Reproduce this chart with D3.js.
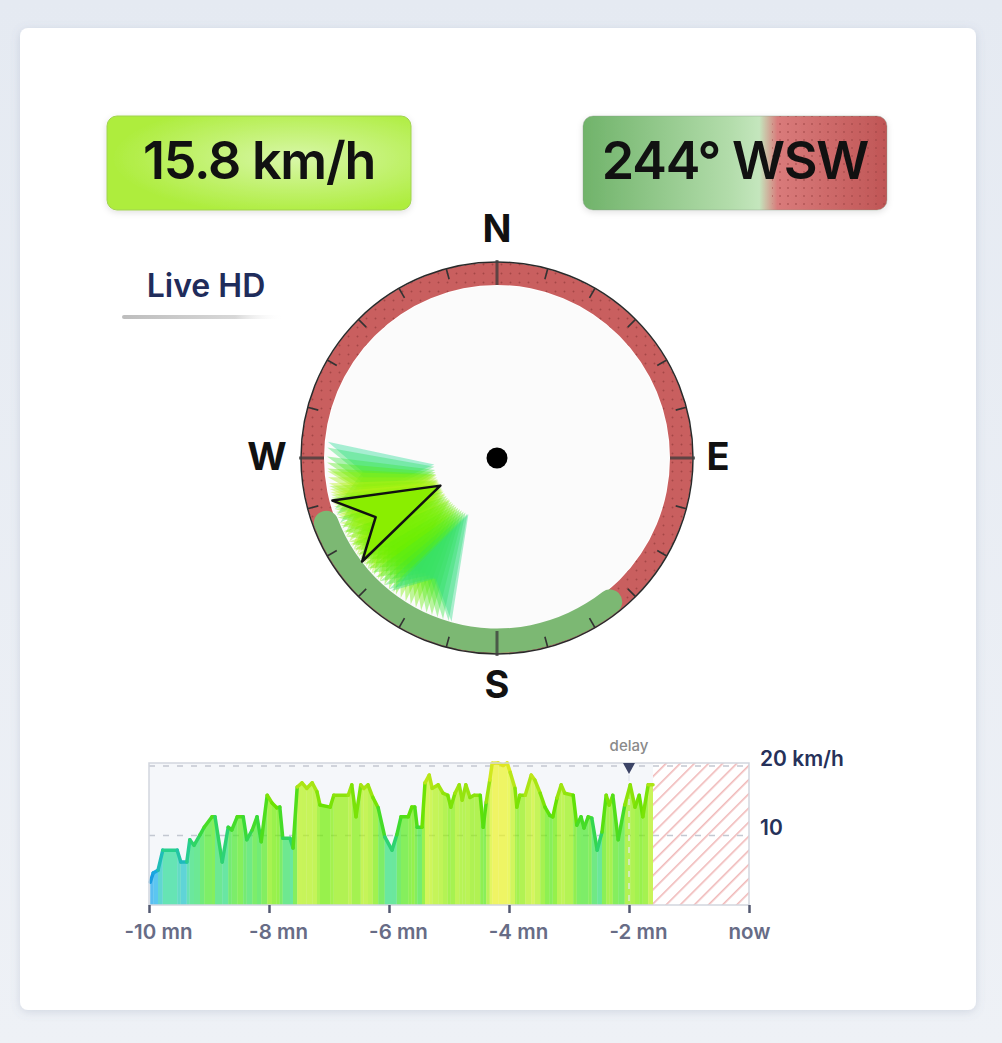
<!DOCTYPE html>
<html><head><meta charset="utf-8">
<script src="https://cdn.jsdelivr.net/npm/d3@7"></script>
<style>html,body{margin:0;padding:0;background:#e7ecf3;} svg{display:block;font-family:Inter,"Noto Sans",sans-serif;}</style>
</head><body><svg id="c" width="1002" height="1043"></svg>
<script>
// ---------- data ----------
const windSpeed = 15.8;
const windDir = 244;
const windDirLabel = "WSW";
const speedUnit = "km/h";
const cardinals = ["N", "E", "S", "W"];
const cardinalAngles = [0, 90, 180, 270];
const goodSector = [138, 253];
const histDirs = [264,262,259,257,255,254,252,250,249,248,247,246,245,244,243,242,241,240,239,238,236,235,233,231,229,228,226,224,222,220,218,216,214,212,210,208,207];
const histSpeeds = [7.9,9.4,10.8,12.7,14.1,15.8,16.3,17.3,15.5,16.8,17.6,15.8,14.4,15.8,17.0,16.1,14.7,15.8,17.3,14.0,16.8,15.1,14.1,14.7,15.8,13.9,14.6,14.4,13.8,14.2,13.7,12.5,12.8,11.8,10.6,9.2,8.4];
const timeMinutes = [-9.98,-9.93,-9.85,-9.77,-9.53,-9.47,-9.37,-9.32,-9.25,-9.15,-9.08,-8.95,-8.90,-8.78,-8.68,-8.62,-8.53,-8.43,-8.37,-8.28,-8.20,-8.13,-8.03,-7.95,-7.87,-7.82,-7.77,-7.65,-7.60,-7.53,-7.45,-7.37,-7.28,-7.20,-7.15,-6.98,-6.92,-6.68,-6.62,-6.55,-6.47,-6.42,-6.35,-6.27,-6.18,-6.07,-5.95,-5.87,-5.80,-5.68,-5.62,-5.57,-5.53,-5.45,-5.40,-5.33,-5.28,-5.18,-5.10,-5.02,-4.97,-4.90,-4.83,-4.78,-4.72,-4.65,-4.58,-4.48,-4.43,-4.38,-4.32,-4.28,-4.18,-4.10,-4.03,-3.98,-3.90,-3.87,-3.82,-3.73,-3.63,-3.57,-3.48,-3.40,-3.32,-3.27,-3.20,-3.13,-3.07,-2.93,-2.87,-2.80,-2.75,-2.68,-2.62,-2.53,-2.45,-2.38,-2.33,-2.27,-2.18,-2.07,-1.98,-1.90,-1.83,-1.77,-1.68,-1.60];
const speedValues = [3.3,4.6,5.0,7.9,7.9,6.2,6.2,9.4,8.6,10.1,11.2,12.7,12.7,6.2,11.2,10.8,12.7,12.7,9.4,10.8,12.7,9.1,15.8,14.7,14.0,14.1,9.6,9.6,8.2,17.0,17.6,16.8,17.6,16.3,14.4,14.1,15.8,15.8,17.3,12.7,17.3,16.8,17.3,15.5,14.0,9.8,7.9,10.1,12.7,12.7,14.1,14.1,11.2,11.2,17.6,18.7,16.8,17.3,16.1,15.8,14.1,16.1,17.3,15.1,17.3,15.5,15.8,15.8,11.2,14.8,18.0,20.4,20.6,20.1,20.6,19.1,16.8,14.1,15.8,15.8,18.7,18.0,16.1,14.1,12.9,12.7,15.4,17.3,16.1,15.8,11.5,12.7,11.1,12.7,12.5,7.9,10.5,15.8,14.4,15.8,9.4,14.4,17.3,14.1,15.8,12.7,17.3,17.3];
const xTicks = [-10, -8, -6, -4, -2, 0];
const xTickLabels = ["-10 mn", "-8 mn", "-6 mn", "-4 mn", "-2 mn", "now"];
const yTicks = [10, 20];
const yTickLabels = ["10", "20 km/h"];
const delayMinute = -2;
const speedStops = [0, 5, 8, 11, 14, 17, 20, 25];
const speedColors = ["#1a6cf0", "#19b4ec", "#2adc92", "#3ce63a", "#6aee00", "#b0f214", "#eaf624", "#ffd020"];

// ---------- setup ----------
const svg = d3.select("#c");
const defs = svg.append("defs");
const color = d3.scaleLinear().domain(speedStops).range(speedColors).clamp(true);

const bg = defs.append("linearGradient").attr("id", "pagebg").attr("x1", 0).attr("y1", 0).attr("x2", 0).attr("y2", 1);
bg.append("stop").attr("offset", "0%").attr("stop-color", "#e5eaf2");
bg.append("stop").attr("offset", "100%").attr("stop-color", "#eef1f6");
svg.append("rect").attr("width", 1002).attr("height", 1043).attr("fill", "url(#pagebg)");

const sh = defs.append("filter").attr("id", "shadow").attr("x", "-10%").attr("y", "-10%").attr("width", "120%").attr("height", "120%");
sh.append("feDropShadow").attr("dx", 0).attr("dy", 2).attr("stdDeviation", 5).attr("flood-color", "#6a7a99").attr("flood-opacity", 0.22);
const sh2 = defs.append("filter").attr("id", "bshadow").attr("x", "-10%").attr("y", "-20%").attr("width", "120%").attr("height", "150%");
sh2.append("feDropShadow").attr("dx", 0).attr("dy", 2).attr("stdDeviation", 3).attr("flood-color", "#000").attr("flood-opacity", 0.12);

svg.append("rect").attr("x", 20).attr("y", 28).attr("width", 956).attr("height", 982).attr("rx", 8)
  .attr("fill", "#ffffff").attr("filter", "url(#shadow)");

// patterns
const dots = defs.append("pattern").attr("id", "dots").attr("patternUnits", "userSpaceOnUse").attr("width", 9).attr("height", 9);
dots.append("circle").attr("cx", 4.5).attr("cy", 4.5).attr("r", 1).attr("fill", "#963c3c").attr("opacity", 0.7);
const dots2 = defs.append("pattern").attr("id", "dots2").attr("patternUnits", "userSpaceOnUse").attr("width", 8).attr("height", 8);
dots2.append("circle").attr("cx", 4).attr("cy", 4).attr("r", 0.9).attr("fill", "#9a4040").attr("opacity", 0.65);
const hatch = defs.append("pattern").attr("id", "hatch").attr("patternUnits", "userSpaceOnUse").attr("width", 10).attr("height", 10).attr("patternTransform", "rotate(45)");
hatch.append("line").attr("x1", 0).attr("y1", 0).attr("x2", 0).attr("y2", 10).attr("stroke", "#f0b8b8").attr("stroke-width", 3.2);

// ---------- top boxes ----------
const sg = defs.append("radialGradient").attr("id", "spdGrad").attr("cx", "62%").attr("cy", "45%").attr("r", "60%");
sg.append("stop").attr("offset", "0%").attr("stop-color", "#d8f7a8");
sg.append("stop").attr("offset", "100%").attr("stop-color", "#aeed3e");
svg.append("rect").attr("x", 107).attr("y", 116).attr("width", 304).attr("height", 94).attr("rx", 10)
  .attr("fill", "url(#spdGrad)").attr("stroke", "#a0d250").attr("stroke-width", 1).attr("filter", "url(#bshadow)");
svg.append("text").attr("x", 259).attr("y", 160).attr("text-anchor", "middle").attr("dominant-baseline", "central")
  .attr("font-size", 52).attr("font-weight", 600).attr("letter-spacing", -1.2).attr("fill", "#111")
  .text(`${windSpeed} ${speedUnit}`);

const dg = defs.append("linearGradient").attr("id", "dirGrad").attr("x1", 0).attr("x2", 1).attr("y1", 0).attr("y2", 0);
[["0%", "#70b36a"], ["48%", "#b2dcaa"], ["58%", "#c4e6bd"], ["64%", "#d97b7b"], ["100%", "#c05656"]]
  .forEach(([o, c]) => dg.append("stop").attr("offset", o).attr("stop-color", c));
svg.append("rect").attr("x", 583).attr("y", 116).attr("width", 304).attr("height", 94).attr("rx", 10)
  .attr("fill", "url(#dirGrad)").attr("stroke", "#8a9a8a").attr("stroke-opacity", 0.4).attr("filter", "url(#bshadow)");
defs.append("clipPath").attr("id", "dirRed").append("rect").attr("x", 772).attr("y", 116).attr("width", 115).attr("height", 94).attr("rx", 10);
svg.append("rect").attr("x", 772).attr("y", 116).attr("width", 115).attr("height", 94).attr("fill", "url(#dots2)").attr("clip-path", "url(#dirRed)");
svg.append("text").attr("x", 735).attr("y", 160).attr("text-anchor", "middle").attr("dominant-baseline", "central")
  .attr("font-size", 52).attr("font-weight", 600).attr("letter-spacing", -1.2).attr("fill", "#111")
  .text(`${windDir}° ${windDirLabel}`);

// Live HD
svg.append("text").attr("x", 206).attr("y", 297).attr("text-anchor", "middle")
  .attr("font-size", 32).attr("font-weight", 600).attr("fill", "#1f2c5b").text("Live HD");
const ul = defs.append("linearGradient").attr("id", "ulGrad");
ul.append("stop").attr("offset", "0%").attr("stop-color", "#bdbdbd");
ul.append("stop").attr("offset", "70%").attr("stop-color", "#d8d8d8");
ul.append("stop").attr("offset", "100%").attr("stop-color", "#ffffff").attr("stop-opacity", 0);
svg.append("rect").attr("x", 122).attr("y", 315).attr("width", 162).attr("height", 4).attr("rx", 2).attr("fill", "url(#ulGrad)");

// ---------- compass ----------
const cx = 497, cy = 458;
const comp = svg.append("g").attr("transform", `translate(${cx},${cy})`);
const ang = d3.scaleLinear().domain([0, 360]).range([0, 2 * Math.PI]);
const pt = (deg, r) => d3.pointRadial(ang(deg), r);

comp.append("circle").attr("r", 172).attr("fill", "#fbfbfb");
const ring = d3.arc().innerRadius(173).outerRadius(195.5);
comp.append("path").attr("d", ring({ startAngle: 0, endAngle: 2 * Math.PI })).attr("fill", "#c95f5f");
comp.append("path").attr("d", ring({ startAngle: 0, endAngle: 2 * Math.PI })).attr("fill", "url(#dots)");
const good = d3.arc().innerRadius(170.5).outerRadius(195).cornerRadius(12);
comp.append("path").attr("d", good({ startAngle: ang(goodSector[0]), endAngle: ang(goodSector[1]) })).attr("fill", "#7cb873");
comp.append("circle").attr("r", 196).attr("fill", "none").attr("stroke", "#2a2a2a").attr("stroke-width", 1.5);

// ticks
const tickAngles = d3.range(0, 360, 15);
comp.selectAll("line.minor").data(tickAngles.filter(a => a % 90 !== 0)).join("line")
  .attr("x1", d => pt(d, 185)[0]).attr("y1", d => pt(d, 185)[1])
  .attr("x2", d => pt(d, 196)[0]).attr("y2", d => pt(d, 196)[1])
  .attr("stroke", "#333").attr("stroke-width", 1.6);
comp.selectAll("line.major").data(cardinalAngles).join("line")
  .attr("x1", d => pt(d, 173)[0]).attr("y1", d => pt(d, 173)[1])
  .attr("x2", d => pt(d, 198)[0]).attr("y2", d => pt(d, 198)[1])
  .attr("stroke", "#3a3a3a").attr("stroke-opacity", 0.75).attr("stroke-width", 3);

// cardinal labels
const labelR = [229, 221, 227, 230];
const labelDy = [-1, -2, -1, -2];
comp.selectAll("text.card").data(cardinals).join("text")
  .attr("x", (d, i) => pt(cardinalAngles[i], labelR[i])[0])
  .attr("y", (d, i) => pt(cardinalAngles[i], labelR[i])[1] + labelDy[i])
  .attr("text-anchor", "middle").attr("dominant-baseline", "central")
  .attr("font-size", 38).attr("font-weight", 700).attr("fill", "#111").text(d => d);

// arrows
const arrowShape = [[63, 0], [170, 11.5], [135, 0], [170, -11.5]];
const arrowPath = dir => "M" + arrowShape.map(([r, da]) => pt(dir + da, r).join(",")).join("L") + "Z";
comp.selectAll("path.hist").data(histDirs).join("path")
  .attr("d", d => arrowPath(d))
  .attr("fill", (d, i) => color(histSpeeds[i])).attr("fill-opacity", 0.4);
comp.append("path").attr("d", arrowPath(windDir)).attr("fill", "#8aee00")
  .attr("stroke", "#111").attr("stroke-width", 2.5).attr("stroke-linejoin", "round");
comp.append("circle").attr("r", 10.5).attr("fill", "#000");

// ---------- time chart ----------
const x = d3.scaleLinear().domain([-10, 0]).range([149, 749]);
const y = d3.scaleLinear().domain([0, 20.45]).range([905, 763]).clamp(true);
const data = timeMinutes.map((t, i) => ({ t, v: speedValues[i] }));
const last = timeMinutes[timeMinutes.length - 1];
const ch = svg.append("g");
ch.append("rect").attr("x", x(-10)).attr("y", y(20.45)).attr("width", x(0) - x(-10)).attr("height", y(0) - y(20.45)).attr("fill", "#f5f7fa");
ch.append("rect").attr("x", x(last)).attr("y", y(20.45)).attr("width", x(0) - x(last)).attr("height", y(0) - y(20.45)).attr("fill", "#fff");
ch.append("rect").attr("x", x(last)).attr("y", y(20.45)).attr("width", x(0) - x(last)).attr("height", y(0) - y(20.45)).attr("fill", "url(#hatch)");
ch.selectAll("line.grid").data(yTicks).join("line")
  .attr("x1", x(-10)).attr("x2", x(0)).attr("y1", d => y(d)).attr("y2", d => y(d))
  .attr("stroke", "#c3c8d1").attr("stroke-width", 1.5).attr("stroke-dasharray", "6,8");

const segs = d3.pairs(data);
ch.selectAll("path.strip").data(segs).join("path")
  .attr("d", ([a, b]) => `M${x(a.t)},${y(0)}L${x(a.t)},${y(a.v)}L${x(b.t)},${y(b.v)}L${x(b.t)},${y(0)}Z`)
  .attr("fill", ([a, b]) => color((a.v + b.v) / 2)).attr("fill-opacity", 0.7);
ch.append("line").attr("x1", x(delayMinute)).attr("x2", x(delayMinute)).attr("y1", y(20.45)).attr("y2", y(0))
  .attr("stroke", "#e4e8ee").attr("stroke-width", 1.5).attr("stroke-dasharray", "6,6").attr("opacity", 0.85);
ch.selectAll("line.seg").data(segs).join("line")
  .attr("x1", ([a]) => x(a.t)).attr("y1", ([a]) => y(a.v)).attr("x2", ([, b]) => x(b.t)).attr("y2", ([, b]) => y(b.v))
  .attr("stroke", ([a, b]) => d3.color(color((a.v + b.v) / 2)).darker(0.15)).attr("stroke-width", 3.5).attr("stroke-linecap", "round");
ch.append("rect").attr("x", x(-10)).attr("y", y(20.45)).attr("width", x(0) - x(-10)).attr("height", y(0) - y(20.45))
  .attr("fill", "none").attr("stroke", "#d2d6de").attr("stroke-width", 1.5);

// delay marker
ch.append("path").attr("d", `M${x(delayMinute) - 6},${y(20.45)}L${x(delayMinute) + 6},${y(20.45)}L${x(delayMinute)},${y(20.45) + 11}Z`).attr("fill", "#3c4466");
ch.append("text").attr("x", x(delayMinute)).attr("y", 751).attr("text-anchor", "middle")
  .attr("font-size", 15).attr("font-weight", 500).attr("fill", "#8a8a8a").text("delay");

// axes
const xAxis = d3.axisBottom(x).tickValues(xTicks).tickFormat((d, i) => xTickLabels[i]).tickSize(8).tickPadding(11);
const gx = ch.append("g").attr("transform", `translate(0,${y(0)})`).call(xAxis);
gx.select(".domain").remove();
gx.selectAll(".tick line").attr("stroke", "#545a72").attr("stroke-width", 2.5);
gx.selectAll(".tick text").attr("font-family", "Inter, 'Noto Sans', sans-serif").attr("font-size", 20.5).attr("font-weight", 600).attr("fill", "#676c86")
  .attr("dx", d => d === 0 ? 0 : 9);

const yAxis = d3.axisRight(y).tickValues(yTicks).tickFormat((d, i) => yTickLabels[i]).tickSize(0).tickPadding(11);
const gy = ch.append("g").attr("transform", `translate(${x(0)},0)`).call(yAxis);
gy.select(".domain").remove();
gy.selectAll(".tick text").attr("font-family", "Inter, 'Noto Sans', sans-serif").attr("font-size", 21).attr("font-weight", 600).attr("fill", "#26315a");
gy.selectAll(".tick").attr("transform", d => `translate(0,${y(d) - 7})`);
</script>
</body></html>
